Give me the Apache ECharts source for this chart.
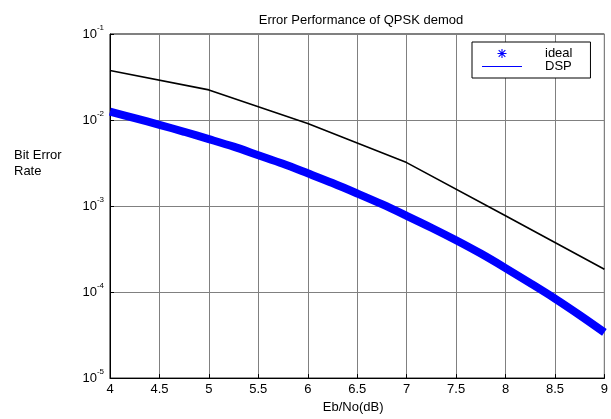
<!DOCTYPE html>
<html>
<head>
<meta charset="utf-8">
<script src="https://cdn.jsdelivr.net/npm/echarts@6/dist/echarts.min.js"></script>
<style>
  html, body { margin: 0; padding: 0; background: #fff; }
  #chart { width: 611px; height: 419px; }
</style>
</head>
<body>
<div id="chart"></div>
<script>
// Eb/No (dB) and BER values
const ebno = [4, 4.25, 4.5, 4.75, 5, 5.25, 5.5, 5.75, 6, 6.25, 6.5, 6.75, 7, 7.25, 7.5, 7.75, 8, 8.25, 8.5, 8.75, 9];
const idealBer = [0.0125, 0.0105, 0.0088, 0.0073, 0.0060, 0.0049, 0.0039, 0.0031, 0.0024, 0.00185, 0.0014,
  0.00105, 0.00077, 0.00056, 0.00040, 0.00028, 0.00019, 0.000127, 0.000084, 0.000054, 0.000034];
const dspEbno = [4, 5, 6, 7, 8, 9];
const dspBer = [0.0377, 0.0224, 0.0091, 0.0032, 0.00077, 0.000184];
const xTicks = [4, 4.5, 5, 5.5, 6, 6.5, 7, 7.5, 8, 8.5, 9];

const font = 'Liberation Sans, Arial, sans-serif';
const starIcon = 'path://M4.4 0h1.2v10h-1.2z M0 4.4h10v1.2h-10z M0.9 1.7L1.7 0.9L9.1 8.3L8.3 9.1z M8.3 0.9L9.1 1.7L1.7 9.1L0.9 8.3z';

let chart = echarts.init(document.getElementById('chart'));
let option = {
    animation: false,
    backgroundColor: '#fff',
    title: {
        text: 'Error Performance of QPSK demod',
        left: 356,
        top: 9,
        textAlign: 'center',
        textStyle: { fontSize: 13, fontWeight: 'normal', color: '#000', fontFamily: font }
    },
    grid: {
        left: 110, right: 6, top: 34, bottom: 36,
        show: true, borderColor: '#000', borderWidth: 1
    },
    legend: {
        orient: 'vertical',
        left: 472,
        top: 42,
        padding: [5, 18, 5, 10],
        itemGap: 0,
        itemWidth: 40,
        itemHeight: 9,
        borderColor: '#000',
        borderWidth: 1,
        backgroundColor: '#fff',
        textStyle: { fontSize: 13, color: '#000', fontFamily: font, padding: [0, 0, 0, 18] },
        data: [
            { name: 'ideal', icon: starIcon, itemStyle: { color: '#0000ff' } },
            { name: 'DSP', icon: 'path://M0 0h40v1.2h-40z', itemStyle: { color: '#0000ff' } }
        ]
    },
    graphic: [{
        type: 'text',
        left: 14,
        top: 147,
        style: { text: 'Bit Error\nRate', fontSize: 13, lineHeight: 16, fill: '#000', fontFamily: font }
    }],
    xAxis: {
        type: 'value',
        min: 4,
        max: 9,
        interval: 0.5,
        name: 'Eb/No(dB)',
        nameLocation: 'middle',
        nameGap: 20,
        nameTextStyle: { fontSize: 13, color: '#000', fontFamily: font, padding: [0, 8, 0, 0] },
        axisLine: { lineStyle: { color: '#000', width: 1 } },
        axisTick: { inside: true, length: 4, lineStyle: { color: '#000' } },
        axisLabel: {
            margin: 5, fontSize: 13, color: '#000', fontFamily: font,
            showMinLabel: true, showMaxLabel: true,
            formatter: function (v) { return xTicks.indexOf(v) >= 0 ? String(v) : ''; }
        },
        splitLine: { show: true, lineStyle: { color: '#808080', width: 1 } }
    },
    yAxis: {
        type: 'log',
        logBase: 10,
        min: 1e-5,
        max: 1e-1,
        axisLine: { lineStyle: { color: '#000', width: 1 } },
        axisTick: { inside: true, length: 4, lineStyle: { color: '#000' } },
        minorTick: { show: false },
        axisLabel: {
            margin: 6,
            color: '#000',
            fontFamily: font,
            formatter: function (v) {
                return '{b|10}{s|' + Math.round(Math.log10(v)) + '}';
            },
            rich: {
                b: { fontSize: 13, fontFamily: font, color: '#000' },
                s: { fontSize: 8, fontFamily: font, color: '#000', padding: [0, 0, 12, 0] }
            }
        },
        splitLine: { show: true, lineStyle: { color: '#808080', width: 1 } }
    },
    series: [
        {
            name: 'ideal',
            type: 'line',
            data: ebno.map((x, i) => [x, idealBer[i]]),
            showSymbol: false,
            smooth: 0.3,
            lineStyle: { color: '#0000ff', width: 8 },
            itemStyle: { color: '#0000ff' },
            z: 3
        },
        {
            name: 'DSP',
            type: 'line',
            data: dspEbno.map((x, i) => [x, dspBer[i]]),
            showSymbol: false,
            lineStyle: { color: '#000', width: 1.6 },
            itemStyle: { color: '#000' },
            z: 4
        }
    ]
};
option && chart.setOption(option);
</script>
</body>
</html>
